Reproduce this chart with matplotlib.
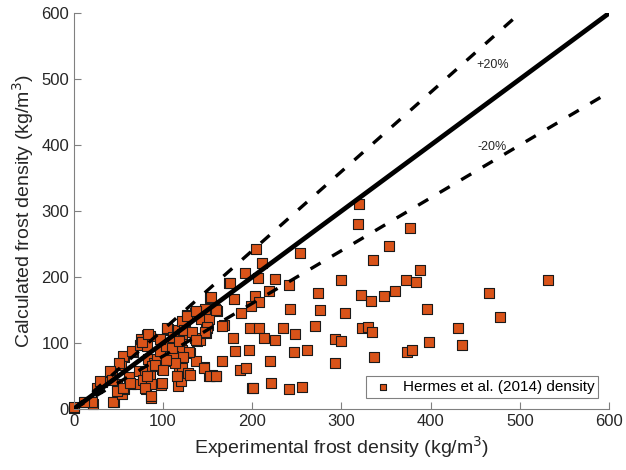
import numpy as np
import matplotlib
matplotlib.use('Agg')
import matplotlib.pyplot as plt

plt.rcParams['font.family'] = ['Liberation Sans', 'DejaVu Sans']

exp_dens = [0, 0, 21, 12, 45, 20, 11, 44, 31, 26, 43, 48, 54, 56, 56, 62, 64, 66, 53, 71,
            75, 73, 80, 77, 81, 86, 83, 90, 93, 88, 85, 86, 98, 104, 99, 97, 103, 108, 112, 120,
            114, 112, 121, 130, 118, 117, 118, 129, 127, 136, 125, 138, 146, 151, 159, 147, 149, 153, 161, 137,
            141, 174, 29, 55, 51, 65, 74, 82, 40, 43, 48, 55, 63, 150, 148, 124, 117, 105, 121, 85,
            136, 148, 75, 121, 121, 121, 129, 122, 121, 120,
            104, 168, 111, 113, 103, 91, 100, 128, 116, 155, 99, 82, 80, 87, 110, 111, 118, 123, 132, 142,
            147, 158, 97, 82, 76, 83,
            204, 254, 211, 192, 206, 226, 175, 241, 219, 154, 179, 203, 207, 199, 274, 242, 276, 187, 152, 159,
            127, 137, 166, 198, 207, 235, 270, 248, 178, 213, 226, 149, 147, 137, 181, 196, 247, 261, 220, 166,
            186, 193, 146, 153, 159, 130, 200, 201, 221, 241, 256,
            320, 318, 377, 353, 335, 300, 388, 372, 383, 531, 322, 333, 348, 360, 465, 304, 396, 478, 323, 330,
            334, 431, 293, 300, 398, 435, 373, 379, 337, 293]
calc_dens = [1, 3, 8, 10, 10, 10, 11, 11, 41, 32, 56, 38, 23, 30, 78, 48, 37, 87, 66, 38,
             98, 58, 56, 44, 30, 17, 75, 70, 76, 65, 50, 38, 36, 120, 60, 88, 95, 73, 103, 105,
             110, 93, 88, 85, 47, 35, 62, 51, 143, 146, 128, 103, 63, 50, 50, 115, 123, 168, 148, 73,
             105, 191, 42, 80, 69, 88, 97, 112, 58, 44, 27, 31, 40, 127, 119, 130, 119, 121, 110, 110,
             108, 115, 106, 133, 113, 90, 86, 78, 62, 42,
             122, 127, 80, 69, 74, 66, 59, 54, 50, 52, 39, 50, 31, 19, 93, 109, 103, 120, 117, 137,
             152, 152, 106, 96, 101, 114,
             242, 236, 221, 206, 198, 197, 191, 188, 178, 170, 167, 171, 162, 156, 175, 151, 150, 145, 137, 150,
             141, 148, 125, 122, 123, 123, 126, 114, 107, 107, 104, 124, 117, 104, 88, 90, 86, 89, 73, 73,
             59, 62, 62, 50, 50, 52, 32, 31, 39, 30, 33,
             311, 281, 275, 247, 226, 195, 210, 195, 192, 196, 173, 163, 171, 178, 175, 145, 152, 139, 123, 124,
             116, 122, 106, 103, 102, 97, 87, 89, 79, 70]

# lijnen: perfecte overeenkomst en +/-20%
lijn_x = [0, 600]
lijn_y = [0, 600]
plus20_x = [0, 500]
plus20_y = [0, 600]
min20_x = [0, 600]
min20_y = [0, 480]

fig = plt.figure(figsize=(6.26, 4.70), dpi=100)
ax = fig.add_axes([0.118, 0.130, 0.855, 0.842])

ax.scatter(exp_dens, calc_dens, marker='s', s=46, facecolor='#D95319', edgecolor='#1a1a1a',
           linewidth=0.8, zorder=2, clip_on=False, label='Hermes et al. (2014) density')
ax.plot(lijn_x, lijn_y, color='k', linewidth=3.4, solid_capstyle='butt', zorder=3)
ax.plot(plus20_x, plus20_y, color='k', linewidth=2.4, linestyle=(0, (3.5, 4.0)), zorder=3)
ax.plot(min20_x, min20_y, color='k', linewidth=2.4, linestyle=(0, (3.5, 4.0)), zorder=3)

ax.text(469, 521, '+20%', fontsize=9, ha='center', va='center', color='#262626')
ax.text(469, 397, '-20%', fontsize=9, ha='center', va='center', color='#262626')

ax.set_xlim(0, 600)
ax.set_ylim(0, 600)
ax.set_xticks(range(0, 601, 100))
ax.set_yticks(range(0, 601, 100))
ax.tick_params(direction='in', length=5, width=0.8, colors='#808080', labelcolor='#262626', labelsize=12)
for s in ['top', 'right']:
    ax.spines[s].set_visible(False)
for s in ['left', 'bottom']:
    ax.spines[s].set_color('#808080')
    ax.spines[s].set_linewidth(0.8)

ax.set_xlabel('Experimental frost density (kg/m$^3$)', fontsize=14, color='#262626')
ax.set_ylabel('Calculated frost density (kg/m$^3$)', fontsize=14, color='#262626')

leg = ax.legend(loc='lower right', bbox_to_anchor=(1 - 11 / 535, 11 / 396), borderaxespad=0,
                fontsize=11, markerscale=0.6, handlelength=1.7, handletextpad=0.45,
                borderpad=0.25, fancybox=False, framealpha=1)
leg.get_frame().set_edgecolor('#808080')
leg.get_frame().set_linewidth(0.8)

plt.savefig('out.png', dpi=100)
